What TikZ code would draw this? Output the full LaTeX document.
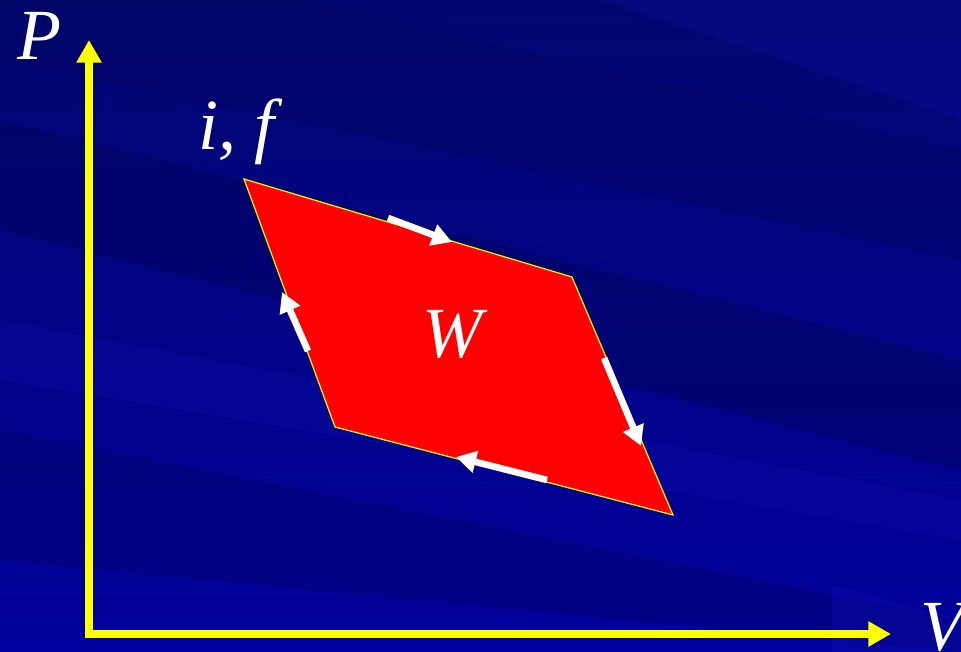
\documentclass[tikz,border=0pt]{standalone}
\usepackage{fontspec}
\setmainfont{Liberation Serif}
\usetikzlibrary{arrows.meta}
\definecolor{bgA}{HTML}{00066F}
\definecolor{bgB}{HTML}{00009C}
\definecolor{bgDark}{HTML}{00035A}
\definecolor{bgLight}{HTML}{1010B0}
\definecolor{axisY}{HTML}{FFFF00}
\definecolor{cycle}{HTML}{FF0000}
\tikzset{
  axis/.style={draw=axisY, line width=5.5pt, -{Triangle[length=17pt,width=18pt]}},
  flow/.style={draw=white, line width=5pt, -{Triangle[length=15pt,width=16pt]}},
  lbl/.style={text=white, font=\fontsize{54}{60}\selectfont\itshape, inner sep=0pt},
  band/.style={fill=#1, draw=none}
}
\begin{document}
\begin{tikzpicture}[x=0.75pt,y=-0.75pt]
\useasboundingbox (0,0) rectangle (961,652);
% background
\shade[top color=bgA, bottom color=bgB] (0,0) rectangle (961,652);
\fill[bgDark, opacity=0.45] (0,120) -- (961,360) -- (961,470) -- (0,230) -- cycle;
\fill[bgDark, opacity=0.3] (300,0) -- (961,150) -- (961,260) -- (0,60) -- (0,0) -- cycle;
\fill[bgDark, opacity=0.3] (0,430) -- (961,620) -- (961,652) -- (0,560) -- cycle;
\fill[bgLight, opacity=0.25] (0,320) -- (961,500) -- (961,540) -- (0,380) -- cycle;
\fill[bgLight, opacity=0.35] (832,585) -- (961,620) -- (961,652) -- (832,652) -- cycle;
\fill[bgLight, opacity=0.2] (600,0) -- (961,0) -- (961,120) -- cycle;
% cycle
\coordinate (A) at (244,179);
\coordinate (B) at (572,277);
\coordinate (C) at (673,515);
\coordinate (D) at (335,427);
\filldraw[fill=cycle, draw=axisY, line width=0.9pt, line join=miter] (A) -- (B) -- (C) -- (D) -- cycle;
% axes
\coordinate (Ptop) at (89,40);
\coordinate (Pbot) at (89,637);
\coordinate (Vend) at (891,634);
\coordinate (Ostart) at (85,634);
\draw[axis] (Pbot) -- (Ptop);
\draw[axis] (Ostart) -- (Vend);
% flow arrows
\coordinate (t1) at (388,218); \coordinate (t2) at (452,242);
\coordinate (r1) at (604,358); \coordinate (r2) at (641,446);
\coordinate (b1) at (547,480); \coordinate (b2) at (456,457);
\coordinate (l1) at (308,351); \coordinate (l2) at (282,292);
\draw[flow] (t1) -- (t2);
\draw[flow] (r1) -- (r2);
\draw[flow] (b1) -- (b2);
\draw[flow] (l1) -- (l2);
% labels
\node[lbl, anchor=base west] (P) at (17,60) {P};
\node[lbl, anchor=base west] (if) at (198,150) {i, f};
\node[lbl, anchor=base west] (W) at (422,358) {W};
\node[lbl, anchor=base west] (V) at (920,650) {V};
\end{tikzpicture}
\end{document}
